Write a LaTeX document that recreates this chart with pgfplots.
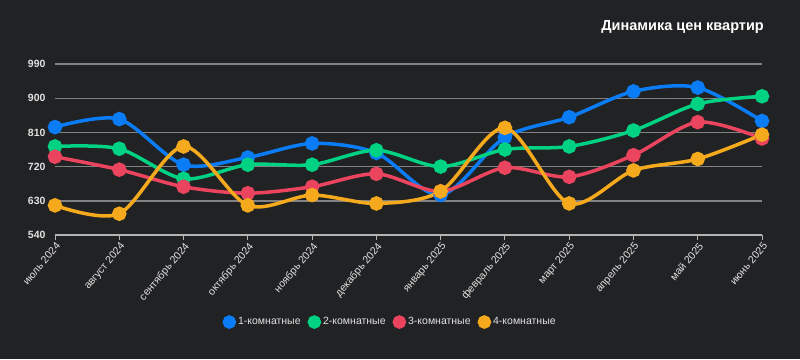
\documentclass[border=0pt]{standalone}
\usepackage{pgfplots}
\pgfplotsset{compat=1.18}
\usepackage{fontspec}
\setmainfont{Liberation Sans}
\definecolor{bg}{RGB}{33,34,36}
\definecolor{c1}{RGB}{10,124,245}
\definecolor{c2}{RGB}{0,210,132}
\definecolor{c3}{RGB}{234,68,94}
\definecolor{c4}{RGB}{245,170,30}
\definecolor{gridc}{RGB}{130,130,130}
\definecolor{txt}{RGB}{225,225,225}
\begin{document}
\begin{tikzpicture}[x=1pt,y=1pt]
\fill[bg] (0,0) rectangle (800,359);
\node[anchor=east, text=white, font=\bfseries\fontsize{14.5}{17}\selectfont, inner sep=0] at (764,332) {Динамика цен квартир};
\begin{axis}[
  at={(55pt,124pt)}, anchor=south west, scale only axis,
  width=707pt, height=171pt,
  xmin=0, xmax=11, ymin=540, ymax=990,
  clip=false,
  axis x line*=bottom, axis y line*=left,
  x axis line style={draw=gridc!60!white, line width=1.5pt, -},
  y axis line style={draw=none},
  xtick={0,...,11},
  xticklabels={июль 2024, август 2024, сентябрь 2024, октябрь 2024, ноябрь 2024, декабрь 2024, январь 2025, февраль 2025, март 2025, апрель 2025, май 2025, июнь 2025},
  xtick style={draw=gridc!60!white, line width=1pt},
  tick align=outside, major tick length=5pt,
  ytick={540,630,720,810,900,990},
  ytick style={draw=none},
  ymajorgrids, major grid style={draw=gridc, line width=1.4pt},
  xticklabel style={rotate=50, anchor=north east, inner sep=1pt, text=txt, font=\fontsize{10.5}{12}\selectfont},
  yticklabel style={text=txt, font=\bfseries\fontsize{10.5}{12}\selectfont, xshift=-1pt},
  /pgf/number format/assume math mode=true,
  /pgf/number format/1000 sep={},
  legend columns=4,
  legend style={at={(0.474,-0.509)}, anchor=center, draw=none, fill=none, text=txt, font=\fontsize{10.5}{12}\selectfont, /tikz/every even column/.append style={column sep=5pt}},
  legend image code/.code={\fill[#1] (2pt,0pt) circle (5pt);},
  every axis plot/.append style={line width=3.5pt, smooth, tension=0.5, mark=*, mark size=5.5pt, mark options={solid, draw=none}},
]
\addplot[color=c1] coordinates {(0,824) (1,845) (2,725) (3,744) (4,781) (5,756) (6,645) (7,797) (8,850) (9,918) (10,928) (11,840)};
\addlegendentry{1-комнатные}
\addplot[color=c2] coordinates {(0,773) (1,767) (2,688) (3,725) (4,725) (5,763) (6,720) (7,765) (8,773) (9,815) (10,885) (11,905)};
\addlegendentry{2-комнатные}
\addplot[color=c3] coordinates {(0,746) (1,712) (2,667) (3,650) (4,667) (5,701) (6,655) (7,717) (8,693) (9,750) (10,837) (11,794)};
\addlegendentry{3-комнатные}
\addplot[color=c4] coordinates {(0,618) (1,596) (2,773) (3,618) (4,645) (5,623) (6,655) (7,822) (8,623) (9,710) (10,740) (11,804)};
\addlegendentry{4-комнатные}
\end{axis}
\pgfresetboundingbox
\useasboundingbox (0,0) rectangle (800,359);
\end{tikzpicture}
\end{document}
